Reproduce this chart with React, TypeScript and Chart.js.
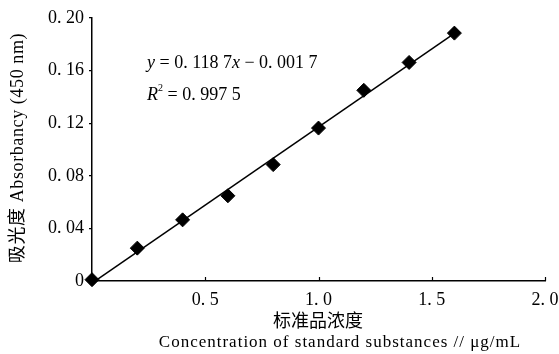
import React, { useEffect, useRef } from "react";
import { Chart, registerables } from "chart.js";

Chart.register(...registerables);

const concentrations = [0, 0.2, 0.4, 0.6, 0.8, 1.0, 1.2, 1.4, 1.6];
const absorbance = [0.001, 0.025, 0.0465, 0.0648, 0.0885, 0.1163, 0.145, 0.1662, 0.1885];
const fitSlope = 0.1187;
const fitIntercept = -0.0017;
const fitRange = [0, 1.6];
const yTickLabels: Record<string, string> = {
  "0": "0",
  "0.04": "0. 04",
  "0.08": "0. 08",
  "0.12": "0. 12",
  "0.16": "0. 16",
  "0.2": "0. 20",
};
const xTickLabels: Record<string, string> = {
  "0": "",
  "0.5": "0. 5",
  "1": "1. 0",
  "1.5": "1. 5",
  "2": "2. 0",
};
const yTitle = "吸光度 Absorbancy (450 nm)";
const xTitle1 = "标准品浓度";
const xTitle2 = "Concentration of standard substances // μg/mL";

const SERIF = "'Liberation Serif', 'DejaVu Serif', 'Noto Sans CJK SC', serif";

export default function App() {
  const ref = useRef<HTMLCanvasElement | null>(null);
  useEffect(() => {
    document.body.style.margin = "0";
    const canvas = ref.current!;
    const fitData = fitRange.map((x) => ({ x, y: fitSlope * x + fitIntercept }));
    const pts = concentrations.map((x, i) => ({ x, y: absorbance[i] }));

    const textPlugin = {
      id: "texts",
      afterDraw(chart: any) {
        const ctx = chart.ctx;
        const xs = chart.scales.x;
        const ys = chart.scales.y;
        ctx.save();
        ctx.strokeStyle = "#000";
        ctx.lineWidth = 1.2;
        [0.5, 1, 1.5, 2].forEach((v) => {
          const px = Math.round(xs.getPixelForValue(v)) + 0.5;
          ctx.beginPath();
          ctx.moveTo(px, ys.bottom);
          ctx.lineTo(px, ys.bottom - 4);
          ctx.stroke();
        });
        ctx.fillStyle = "#000";
        // y title
        ctx.font = `18px ${SERIF}`;
        ctx.textAlign = "center";
        ctx.textBaseline = "middle";
        ctx.save();
        ctx.translate(18, 148);
        ctx.rotate(-Math.PI / 2);
        (ctx as any).letterSpacing = "0.6px";
        ctx.fillText(yTitle, 0, 0);
        ctx.restore();
        // x titles
        ctx.font = `18px ${SERIF}`;
        ctx.fillText(xTitle1, 318, 322);
        ctx.save();
        (ctx as any).letterSpacing = "1px";
        ctx.font = `17px ${SERIF}`;
        ctx.fillText(xTitle2, 340, 343);
        ctx.restore();
        // equation
        ctx.textAlign = "left";
        ctx.font = `italic 18px ${SERIF}`;
        let x = 147;
        const y1 = 63;
        ctx.fillText("y", x, y1);
        x += ctx.measureText("y").width;
        ctx.font = `18px ${SERIF}`;
        const mid = " = 0. 118 7";
        ctx.fillText(mid, x, y1);
        x += ctx.measureText(mid).width;
        ctx.font = `italic 18px ${SERIF}`;
        ctx.fillText("x", x, y1);
        x += ctx.measureText("x").width;
        ctx.font = `18px ${SERIF}`;
        ctx.fillText(" − 0. 001 7", x, y1);
        // R2
        const y2 = 95;
        x = 147;
        ctx.font = `italic 18px ${SERIF}`;
        ctx.fillText("R", x, y2);
        x += ctx.measureText("R").width;
        ctx.font = `10px ${SERIF}`;
        ctx.fillText("2", x, y2 - 7);
        x += ctx.measureText("2").width;
        ctx.font = `18px ${SERIF}`;
        ctx.fillText(" = 0. 997 5", x, y2);
        ctx.restore();
      },
    };

    const chart = new Chart(canvas, {
      type: "scatter",
      data: {
        datasets: [
          {
            type: "line",
            data: fitData,
            borderColor: "#000",
            borderWidth: 1.5,
            pointRadius: 0,
            fill: false,
            clip: false,
            order: 2,
          } as any,
          {
            data: pts,
            backgroundColor: "#000",
            borderColor: "#000",
            pointStyle: "rectRot",
            pointRadius: 7,
            clip: false,
            order: 1,
          } as any,
        ],
      },
      options: {
        responsive: false,
        animation: false,
        layout: { padding: { top: 18, right: 0, left: 0, bottom: 0 } },
        plugins: { legend: { display: false }, tooltip: { enabled: false } },
        scales: {
          x: {
            type: "linear",
            min: 0,
            max: 2,
            border: { color: "#000", width: 1.5 },
            grid: { display: false, drawTicks: false },
            ticks: {
              stepSize: 0.5,
              color: "#000",
              padding: 8,
              font: { family: SERIF, size: 18 },
              maxRotation: 0,
              callback: (v: any) => xTickLabels[String(Number(v))] ?? "",
            },
            afterFit: (s: any) => {
              s.height = 73;
              s.paddingRight = 14;
              s.paddingLeft = 0;
            },
          },
          y: {
            type: "linear",
            min: 0,
            max: 0.2,
            border: { color: "#000", width: 1.5 },
            grid: { drawOnChartArea: false, color: "#000", tickLength: 3, lineWidth: 1.2 },
            ticks: {
              stepSize: 0.04,
              color: "#000",
              padding: 5,
              font: { family: SERIF, size: 18 },
              callback: (v: any) => yTickLabels[String(Math.round(Number(v) * 100) / 100)] ?? "",
            },
            afterFit: (s: any) => {
              s.width = 92;
              s.paddingTop = 0;
            },
          },
        },
      },
      plugins: [textPlugin],
    });
    return () => chart.destroy();
  }, []);
  return <canvas ref={ref} width={559} height={354} style={{ display: "block" }} />;
}
